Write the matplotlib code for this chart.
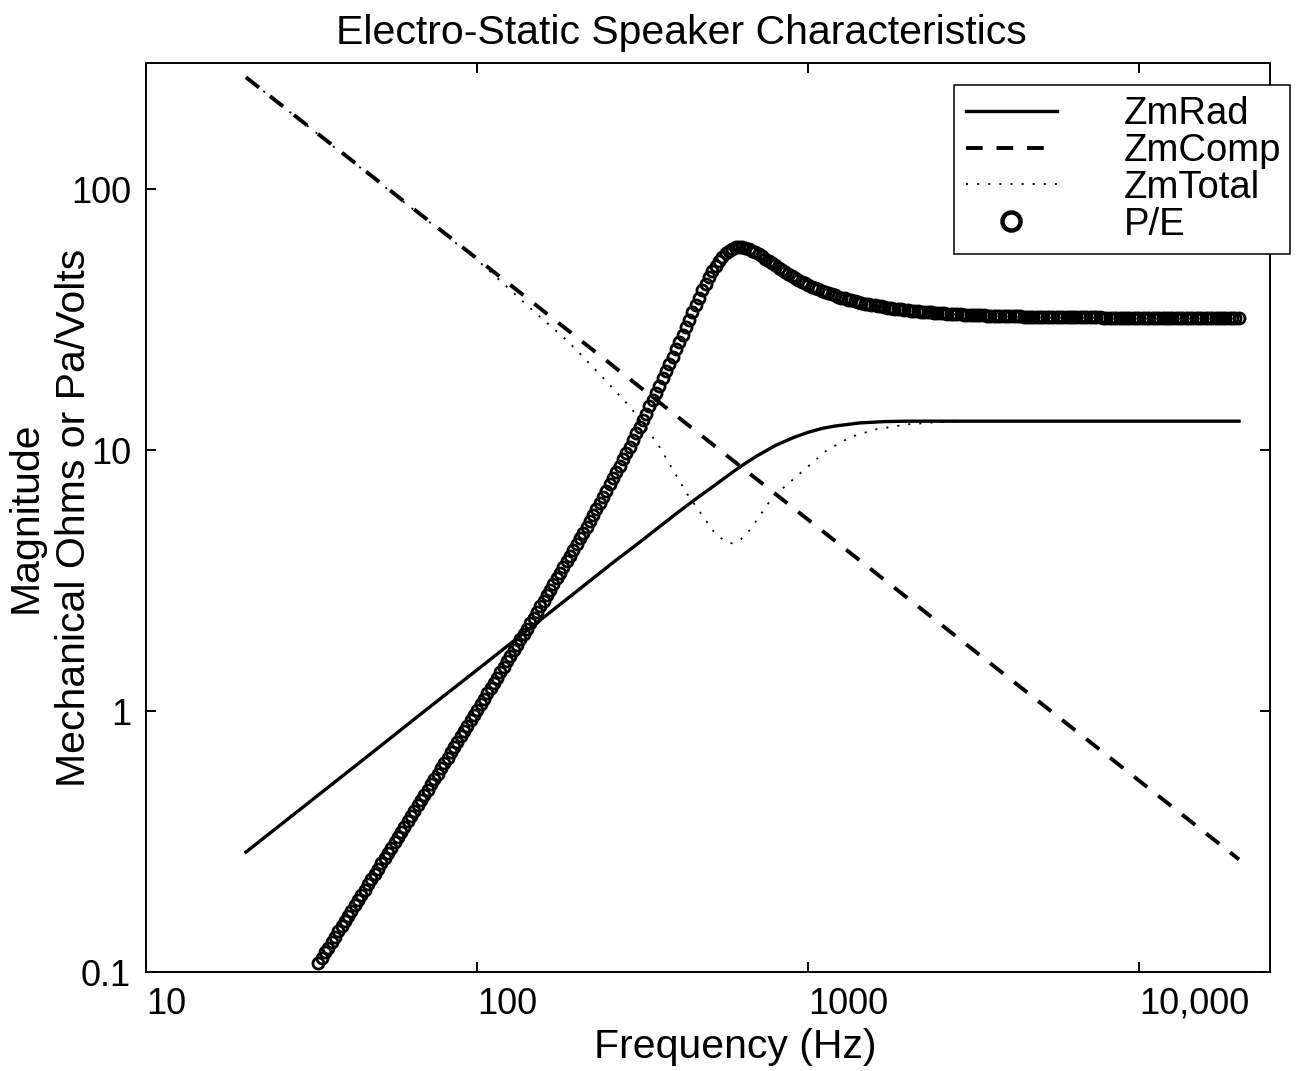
import numpy as np
import matplotlib
matplotlib.use('Agg')
from matplotlib import pyplot as plt

plt.rcParams['font.family'] = ['Liberation Sans', 'DejaVu Sans']
plt.rcParams['lines.scale_dashes'] = False

# ZmRad (solid line)
rad_freq = [20, 30, 50, 70, 100, 150, 200, 260, 300, 400, 450, 500, 550, 600, 650, 700,
            800, 900, 1000, 1100, 1200, 1430, 1700, 2000, 3000, 5000, 10000, 20000]
rad_mag = [0.288, 0.432, 0.72, 1.01, 1.44, 2.16, 2.88, 3.75, 4.3, 5.72, 6.4, 7.05, 7.7, 8.35, 8.95, 9.5,
           10.45, 11.15, 11.7, 12.1, 12.35, 12.7, 12.85, 12.9, 12.9, 12.9, 12.9, 12.9]

# ZmComp (dashed line)
comp_freq = [20, 100, 1000, 10000, 20000]
comp_mag = [268, 54, 5.4, 0.54, 0.27]

# ZmTotal (dotted line)
total_freq = [20, 50, 100, 150, 186, 230, 290, 350, 430, 516, 550, 587, 625, 667,
              780, 945, 1140, 1350, 1600, 2000, 2500, 3000, 5000, 10000, 20000]
total_mag = [268, 107, 53.5, 33.5, 26.4, 20.0, 14.6, 10.6, 6.8, 4.9, 4.55, 4.39, 4.55, 4.95,
             6.6, 8.15, 10.0, 11.25, 12.0, 12.55, 12.8, 12.9, 12.9, 12.9, 12.9]

# P/E, one value per circle, circles log spaced from 10^1.52 to 10^4.30 Hz
pe_start, pe_stop = 1.52, 4.30
pe_mag = [
    0.108, 0.113, 0.119, 0.124, 0.130, 0.136, 0.143, 0.150, 0.157, 0.164,
    0.172, 0.180, 0.189, 0.198, 0.207, 0.217, 0.227, 0.238, 0.249, 0.261,
    0.273, 0.286, 0.300, 0.314, 0.329, 0.345, 0.361, 0.378, 0.396, 0.415,
    0.435, 0.456, 0.477, 0.500, 0.524, 0.549, 0.575, 0.603, 0.632, 0.662,
    0.694, 0.727, 0.762, 0.799, 0.837, 0.877, 0.920, 0.964, 1.01, 1.06,
    1.11, 1.17, 1.22, 1.28, 1.34, 1.41, 1.48, 1.55, 1.63, 1.71,
    1.79, 1.88, 1.97, 2.07, 2.17, 2.28, 2.40, 2.52, 2.64, 2.78,
    2.92, 3.07, 3.22, 3.39, 3.56, 3.75, 3.94, 4.15, 4.36, 4.59,
    4.83, 5.09, 5.36, 5.65, 5.96, 6.28, 6.62, 6.99, 7.38, 7.79,
    8.23, 8.70, 9.20, 9.73, 10.3, 10.9, 11.6, 12.3, 13.0, 13.8,
    14.7, 15.6, 16.6, 17.6, 18.8, 20.0, 21.3, 22.8, 24.3, 26.0,
    27.7, 29.6, 31.6, 33.8, 36.1, 38.4, 40.9, 43.4, 45.9, 48.4,
    50.8, 53.1, 55.1, 56.8, 58.1, 59.1, 59.7, 60.0, 59.9, 59.5,
    58.9, 58.1, 57.2, 56.2, 55.2, 54.1, 53.1, 52.0, 51.0, 50.0,
    49.0, 48.1, 47.2, 46.4, 45.6, 44.9, 44.2, 43.5, 42.9, 42.3,
    41.8, 41.3, 40.8, 40.3, 39.9, 39.5, 39.1, 38.7, 38.4, 38.1,
    37.7, 37.5, 37.2, 36.9, 36.7, 36.4, 36.2, 36.0, 35.8, 35.6,
    35.5, 35.3, 35.1, 35.0, 34.8, 34.7, 34.6, 34.5, 34.3, 34.2,
    34.1, 34.0, 33.9, 33.8, 33.7, 33.7, 33.6, 33.5, 33.4, 33.4,
    33.3, 33.3, 33.2, 33.1, 33.1, 33.0, 33.0, 32.9, 32.9, 32.9,
    32.8, 32.8, 32.7, 32.7, 32.7, 32.6, 32.6, 32.6, 32.6, 32.5,
    32.5, 32.5, 32.5, 32.4, 32.4, 32.4, 32.4, 32.4, 32.4, 32.3,
    32.3, 32.3, 32.3, 32.3, 32.3, 32.3, 32.2, 32.2, 32.2, 32.2,
    32.2, 32.2, 32.2, 32.2, 32.2, 32.2, 32.2, 32.1, 32.1, 32.1,
    32.1, 32.1, 32.1, 32.1, 32.1, 32.1, 32.1, 32.1, 32.1, 32.1,
    32.1, 32.1, 32.1, 32.1, 32.1, 32.1, 32.1, 32.1, 32.1, 32.1,
    32.1, 32.0, 32.0, 32.0, 32.0, 32.0, 32.0, 32.0, 32.0, 32.0,
    32.0, 32.0, 32.0, 32.0, 32.0, 32.0, 32.0, 32.0, 32.0]
pe_freq = np.logspace(pe_start, pe_stop, len(pe_mag))

xticks = [10, 100, 1000, 10000]
xticklabels = ['10', '100', '1000', '10,000']
yticks = [0.1, 1, 10, 100]
yticklabels = ['0.1', '1', '10', '100']

fig = plt.figure(figsize=(13, 10.71), dpi=100)
ax = fig.add_axes([0.1125, 0.0924, 0.8644, 0.8488])

ax.plot(rad_freq, rad_mag, color='k', lw=2.4, label='ZmRad')
ax.plot(comp_freq, comp_mag, color='k', lw=2.8, dashes=(12, 10), label='ZmComp')
ax.plot(total_freq, total_mag, color='k', lw=1.3, dashes=(1.5, 6.5), label='ZmTotal')
ax.plot(pe_freq, pe_mag, ls='none', marker='o', ms=8, mew=2.0,
        mfc='none', mec='k', label='P/E')

ax.set_xscale('log')
ax.set_yscale('log')
ax.set_xlim(10, 24800)
ax.set_ylim(0.1, 304)
ax.set_xticks(xticks)
ax.set_xticklabels(xticklabels, ha='left')
ax.set_yticks(yticks)
ax.set_yticklabels(yticklabels)
ax.minorticks_off()
ax.tick_params(direction='in', length=7, width=1.4, top=True, right=True, labelsize=26)
ax.tick_params(axis='x', pad=10.5)
ax.tick_params(axis='y', pad=11)
for s in ax.spines.values():
    s.set_linewidth(1.4)

ax.set_title('Electro-Static Speaker Characteristics', fontsize=29.5, pad=14, x=0.476)
ax.set_xlabel('Frequency (Hz)', fontsize=29.5)
ax.xaxis.set_label_coords(0.524, -0.062)
ax.set_ylabel('Magnitude\nMechanical Ohms or Pa/Volts', fontsize=29.5, linespacing=1.35)
ax.yaxis.set_label_coords(-0.047, 0.5)

leg = ax.legend(loc='upper left', bbox_to_anchor=(0.719, 0.791, 0.299, 0.185), mode='expand',
                borderaxespad=0, fontsize=27.5, handlelength=2.4, handletextpad=1.75,
                labelspacing=0.02, borderpad=0.3, fancybox=False, framealpha=1,
                edgecolor='k')
leg.get_frame().set_linewidth(1.1)
leg.legend_handles[3].set_markersize(13)
leg.legend_handles[3].set_markeredgewidth(3.2)

fig.savefig('out.png', dpi=100)
